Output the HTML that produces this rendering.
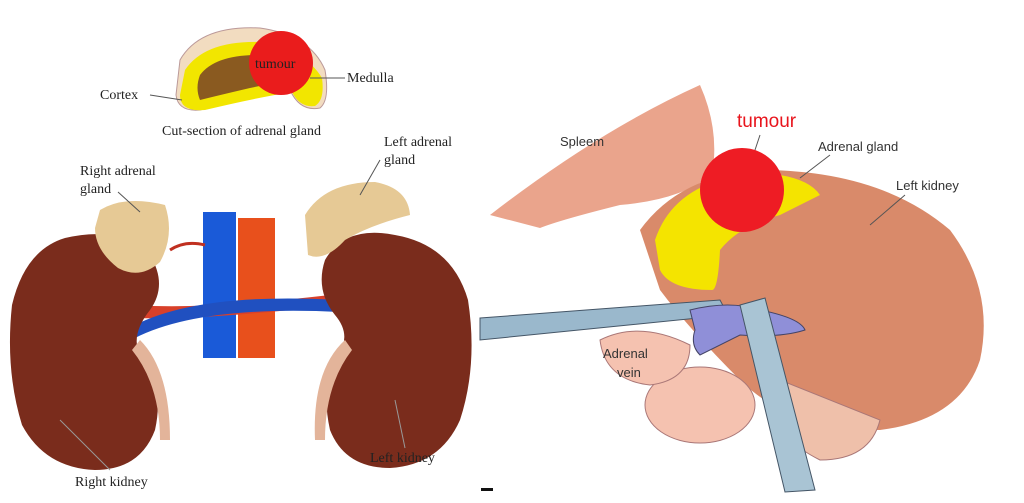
<!DOCTYPE html>
<html><head><meta charset="utf-8"><style>
html,body{margin:0;padding:0;background:#fff;width:1024px;height:503px;overflow:hidden}
svg{display:block}
.s{font-family:"Liberation Serif",serif;font-size:14px;fill:#222}
.a{font-family:"Liberation Sans",sans-serif;font-size:13px;fill:#333}
</style></head><body>
<svg width="1024" height="503" viewBox="0 0 1024 503" xmlns="http://www.w3.org/2000/svg">
<rect width="1024" height="503" fill="#fff"/>
<!-- cross section -->
<path d="M180,60 Q200,25 260,28 Q310,35 325,70 Q330,100 320,108 Q300,112 290,90 Q260,95 200,110 Q178,112 176,95 Z" fill="#f2dcc0" stroke="#b99" stroke-width="1"/>
<path d="M185,70 Q205,40 262,42 Q305,50 322,78 Q325,100 315,106 Q300,108 292,92 Q255,98 205,110 Q180,112 180,95 Z" fill="#f2e600"/>
<path d="M200,75 Q215,55 258,55 Q285,58 300,75 Q280,82 250,88 Q220,95 200,100 Q195,88 200,75Z" fill="#8a5a20"/>
<circle cx="281" cy="63" r="32" fill="#ea1c1c"/>
<text x="255" y="68" class="s" font-size="13">tumour</text>
<line x1="150" y1="95" x2="182" y2="100" stroke="#555"/>
<line x1="310" y1="78" x2="345" y2="78" stroke="#555"/>
<text x="100" y="99" class="s">Cortex</text>
<text x="347" y="82" class="s">Medulla</text>
<text x="162" y="135" class="s">Cut-section of adrenal gland</text>
<!-- vessels -->
<rect x="238" y="218" width="37" height="140" fill="#e8501c"/>
<rect x="203" y="212" width="33" height="146" fill="#1a5ad8"/>
<path d="M135,305 Q200,310 330,295 L330,306 Q200,320 135,318Z" fill="#d8402a"/>
<path d="M135,325 Q200,292 340,300 L340,312 Q200,305 135,338Z" fill="#2050c0"/>
<path d="M170,250 Q185,240 205,245" stroke="#c03020" stroke-width="3" fill="none"/>
<!-- kidneys left panel -->
<path d="M65,238 Q120,225 150,255 Q168,285 150,310 Q130,335 140,355 Q165,385 155,430 Q140,470 95,470 Q45,468 22,425 Q5,370 12,305 Q25,250 65,238Z" fill="#7a2c1c"/>
<path d="M140,340 Q170,370 170,440 L160,440 Q160,385 132,350Z" fill="#e3b49a"/>
<path d="M395,235 Q345,225 325,260 Q315,290 335,315 Q352,335 338,355 Q320,385 330,430 Q345,468 390,468 Q440,465 460,420 Q478,365 468,300 Q452,245 395,235Z" fill="#7a2c1c"/>
<path d="M345,340 Q312,370 315,440 L325,440 Q325,385 352,350Z" fill="#e3b49a"/>
<path d="M100,210 Q125,195 165,205 Q175,235 160,262 Q140,280 118,268 Q95,250 95,228Z" fill="#e6c995"/>
<path d="M305,215 Q325,182 375,182 Q408,188 410,215 Q370,225 345,240 Q325,262 308,255Z" fill="#e6c995"/>
<text x="80" y="175" class="s">Right adrenal</text><text x="80" y="193" class="s">gland</text>
<text x="384" y="146" class="s">Left adrenal</text><text x="384" y="164" class="s">gland</text>
<line x1="380" y1="160" x2="360" y2="195" stroke="#555"/>
<line x1="118" y1="192" x2="140" y2="212" stroke="#555"/>
<text x="75" y="486" class="s">Right kidney</text>
<text x="370" y="462" class="s">Left kidney</text>
<line x1="110" y1="470" x2="60" y2="420" stroke="#999"/>
<line x1="405" y1="448" x2="395" y2="400" stroke="#999"/>
<!-- right panel -->
<path d="M490,215 Q600,130 700,85 Q720,130 712,175 Q680,200 620,205 Q560,220 540,228 Z" fill="#eaa48c"/>
<path d="M640,230 Q680,175 760,170 Q880,170 950,230 Q995,290 980,360 Q960,420 880,430 Q790,430 740,380 Q690,330 660,290Z" fill="#d98a6a"/>
<path d="M655,240 Q670,195 720,180 L780,175 Q810,180 820,195 L780,215 Q740,225 720,250 Q718,290 712,290 Q670,290 660,270Z" fill="#f4e400"/>
<circle cx="742" cy="190" r="42" fill="#ee1c24"/>
<ellipse cx="700" cy="405" rx="55" ry="38" fill="#f5c2b0" stroke="#a77" stroke-width="1"/>
<path d="M600,340 Q640,320 690,345 Q690,380 650,385 Q605,380 600,340Z" fill="#f5c2b0" stroke="#a77" stroke-width="1"/>
<path d="M780,380 Q830,400 880,420 Q870,460 820,460 Q780,440 770,410Z" fill="#efc0aa" stroke="#a77" stroke-width="1"/>
<path d="M480,318 L720,300 L728,315 L480,340Z" fill="#9ab8cc" stroke="#456" stroke-width="1"/>
<path d="M690,310 Q730,300 760,310 Q800,318 805,330 Q780,338 740,335 Q720,345 700,355 Q690,345 695,330Z" fill="#8f8fd8" stroke="#446" stroke-width="1"/>
<path d="M740,305 L765,298 L815,490 L785,492Z" fill="#a9c4d4" stroke="#456" stroke-width="1"/>
<text x="560" y="146" class="a">Spleem</text>
<text x="737" y="127" font-family="Liberation Sans,sans-serif" font-size="19" fill="#e8141c">tumour</text>
<text x="818" y="151" class="a">Adrenal gland</text>
<text x="896" y="190" class="a">Left kidney</text>
<text x="603" y="358" class="a">Adrenal</text><text x="617" y="377" class="a">vein</text>
<line x1="760" y1="135" x2="755" y2="150" stroke="#555"/>
<line x1="830" y1="155" x2="800" y2="178" stroke="#555"/>
<line x1="905" y1="195" x2="870" y2="225" stroke="#555"/>
<rect x="481" y="488" width="12" height="3" fill="#111"/>
</svg>
</body></html>
